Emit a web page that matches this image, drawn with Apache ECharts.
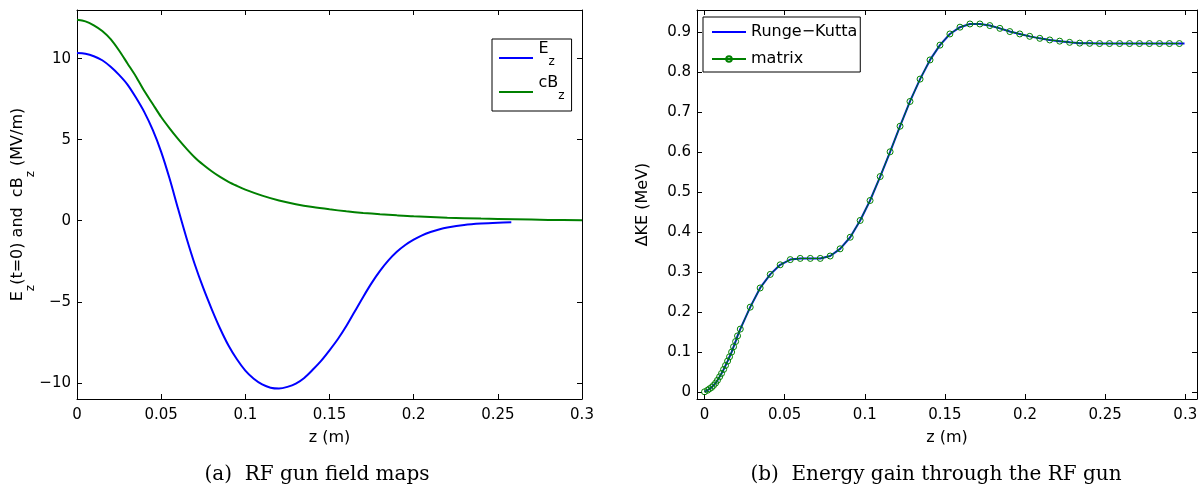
<!DOCTYPE html>
<html>
<head>
<meta charset="utf-8">
<script src="https://cdn.jsdelivr.net/npm/echarts@6/dist/echarts.min.js"></script>
<style>
  html, body { margin: 0; padding: 0; background: #fff; }
  #main { width: 1203px; height: 489px; }
</style>
</head>
<body>
<div id="main"></div>
<script>
var chart = echarts.init(document.getElementById('main'));

// (a) field maps
var ezZ = [0, 0.005, 0.01, 0.015, 0.02, 0.025, 0.03, 0.035, 0.04, 0.045, 0.05, 0.055, 0.06, 0.065, 0.07, 0.075, 0.08, 0.085, 0.09, 0.095,
  0.1, 0.105, 0.11, 0.115, 0.12, 0.125, 0.13, 0.135, 0.14, 0.145, 0.15, 0.155, 0.16, 0.165, 0.17, 0.175, 0.18, 0.185, 0.19, 0.195,
  0.2, 0.205, 0.21, 0.215, 0.22, 0.23, 0.24, 0.25, 0.258];
var ezVal = [10.35, 10.3, 10.15, 9.9, 9.5, 9.0, 8.4, 7.6, 6.7, 5.6, 4.25, 2.6, 0.75, -1.05, -2.7, -4.15, -5.45, -6.65, -7.7, -8.55,
  -9.25, -9.75, -10.1, -10.3, -10.35, -10.25, -10.05, -9.7, -9.2, -8.65, -8.0, -7.3, -6.5, -5.6, -4.7, -3.85, -3.1, -2.45, -1.92, -1.5,
  -1.17, -0.9, -0.7, -0.54, -0.42, -0.26, -0.17, -0.12, -0.1];
var bzZ = [0, 0.005, 0.01, 0.015, 0.02, 0.025, 0.03, 0.035, 0.04, 0.045, 0.05, 0.055, 0.06, 0.065, 0.07, 0.075, 0.08, 0.085, 0.09, 0.095,
  0.1, 0.11, 0.12, 0.13, 0.14, 0.15, 0.16, 0.17, 0.18, 0.19, 0.2, 0.22, 0.24, 0.26, 0.28, 0.3];
var bzVal = [12.4, 12.3, 12.05, 11.7, 11.2, 10.5, 9.7, 8.9, 8.0, 7.2, 6.4, 5.7, 5.05, 4.45, 3.9, 3.45, 3.05, 2.7, 2.4, 2.15,
  1.92, 1.55, 1.25, 1.02, 0.84, 0.7, 0.58, 0.48, 0.4, 0.33, 0.27, 0.19, 0.13, 0.09, 0.05, 0.03];

// (b) energy gain, matrix points
var keZ = [0, 0.0019, 0.0031, 0.0044, 0.0056, 0.0069, 0.0081, 0.0094, 0.0106, 0.0119, 0.0131, 0.0144, 0.0156, 0.0169, 0.0181, 0.0194, 0.0206, 0.0223,
  0.0285, 0.0347, 0.041, 0.0472, 0.0535, 0.0597, 0.066, 0.0722, 0.0784, 0.0846, 0.0909, 0.0971, 0.1033, 0.1096, 0.1158, 0.122, 0.1282,
  0.1345, 0.1407, 0.1469, 0.1531, 0.1594, 0.1656, 0.1718, 0.178, 0.1843, 0.1905, 0.1967, 0.2029, 0.2092, 0.2154, 0.2216, 0.2278,
  0.2341, 0.2403, 0.2465, 0.2527, 0.259, 0.2652, 0.2714, 0.2776, 0.2839, 0.2901, 0.2963];
var keVal = [0, 0.004, 0.0076, 0.011, 0.016, 0.0218, 0.029, 0.0376, 0.046, 0.056, 0.066, 0.077, 0.0877, 0.0995, 0.1128, 0.126, 0.14, 0.157,
  0.212, 0.26, 0.294, 0.318, 0.331, 0.334, 0.334, 0.334, 0.34, 0.358, 0.387, 0.429, 0.479, 0.539, 0.601, 0.665, 0.727,
  0.783, 0.831, 0.868, 0.896, 0.913, 0.921, 0.921, 0.917, 0.91, 0.902, 0.896, 0.89, 0.885, 0.881, 0.878, 0.875,
  0.873, 0.8725, 0.872, 0.872, 0.872, 0.872, 0.872, 0.872, 0.872, 0.872, 0.872];
// Runge-Kutta curve
var rkZ = keZ.concat([0.2995]);
var rkVal = keVal.concat([0.872]);

var xTicks = [0, 0.05, 0.1, 0.15, 0.2, 0.25, 0.3];
var yTicksA = [-10, -5, 0, 5, 10];
var yTicksB = [0, 0.1, 0.2, 0.3, 0.4, 0.5, 0.6, 0.7, 0.8, 0.9];

function pairs(xs, ys) {
  return xs.map(function (x, i) { return [x, ys[i]]; });
}

var FONT = 'DejaVu Sans';
var sub = {
  n: { fontSize: 16, fontFamily: FONT, color: '#000', lineHeight: 16, padding: [0, 0, 18, 0] },
  s: { fontSize: 12, fontFamily: FONT, color: '#000', lineHeight: 12, padding: [7, 0, 0, 0] }
};
// legend icon: a 2px bar in a 34x7 box
var LINE_ICON = 'path://M0,2.5 L34,2.5 L34,4.5 L0,4.5 Z M0,0 L0.01,0 L0.01,0.01 Z M0,7 L0.01,7 L0.01,6.99 Z';

function axisBase(ticks, showLabel, pos) {
  return {
    type: 'value',
    position: pos,
    splitLine: { show: false },
    axisLine: { show: true, onZero: false, lineStyle: { color: '#000', width: 1 } },
    axisTick: { show: true, inside: true, length: 5, customValues: ticks, lineStyle: { color: '#000' } },
    axisLabel: {
      show: showLabel, customValues: ticks, color: '#000', fontFamily: FONT, fontSize: 15,
      formatter: function (v) { return v < 0 ? '\u2212' + (-v) : String(v); }
    }
  };
}

function xAx(grid, min, max, pos, show) {
  var a = axisBase(xTicks, show, pos);
  a.gridIndex = grid; a.min = min; a.max = max;
  a.axisLabel.margin = 9;
  if (show) {
    a.name = 'z (m)';
    a.nameLocation = 'middle';
    a.nameGap = 31;
    a.nameMoveOverlap = false;
    a.nameTextStyle = { color: '#000', fontFamily: FONT, fontSize: 16, lineHeight: 16 };
  }
  return a;
}

function yAx(grid, min, max, ticks, pos, show) {
  var a = axisBase(ticks, show, pos);
  a.gridIndex = grid; a.min = min; a.max = max;
  a.axisLabel.margin = 6;
  return a;
}

var yA = yAx(0, -11, 13, yTicksA, 'left', true);
yA.name = '{n|E}{s|z}{n|(t=0) and  cB}{s|z}{n| (MV/m)}';
yA.nameLocation = 'middle';
yA.nameGap = 42;
yA.nameMoveOverlap = false;
yA.nameTextStyle = { rich: sub };

var yB = yAx(1, -0.018, 0.956, yTicksB, 'left', true);
yB.name = '\u0394KE (MeV)';
yB.nameLocation = 'middle';
yB.nameGap = 46;
yB.nameMoveOverlap = false;
yB.nameTextStyle = { color: '#000', fontFamily: FONT, fontSize: 16, lineHeight: 16 };

var option = {
  animation: false,
  backgroundColor: '#fff',
  grid: [
    { left: 77, top: 10, width: 505, height: 389 },
    { left: 697, top: 10, width: 500, height: 389 }
  ],
  xAxis: [
    xAx(0, 0, 0.3, 'bottom', true),
    xAx(0, 0, 0.3, 'top', false),
    xAx(1, -0.0047, 0.3073, 'bottom', true),
    xAx(1, -0.0047, 0.3073, 'top', false)
  ],
  yAxis: [
    yA,
    yAx(0, -11, 13, yTicksA, 'right', false),
    yB,
    yAx(1, -0.018, 0.956, yTicksB, 'right', false)
  ],
  legend: [
    {
      data: [{ name: 'Ez', icon: LINE_ICON }, { name: 'cBz', icon: LINE_ICON }],
      orient: 'vertical',
      left: 492, top: 39,
      padding: [2, 7, 2, 7],
      itemGap: 0,
      itemWidth: 35, itemHeight: 7,
      backgroundColor: '#fff',
      borderColor: '#000', borderWidth: 1, borderRadius: 0,
      formatter: function (name) { return name === 'Ez' ? '{n|E}{s|z}' : '{n|cB}{s|z}'; },
      textStyle: { rich: sub }
    },
    {
      data: [{ name: 'Runge\u2212Kutta', icon: LINE_ICON }, { name: 'matrix' }],
      orient: 'vertical',
      left: 703, top: 17,
      padding: [5, 3, 3, 8],
      itemGap: 7,
      itemWidth: 34, itemHeight: 7,
      backgroundColor: '#fff',
      borderColor: '#000', borderWidth: 1, borderRadius: 0,
      textStyle: { color: '#000', fontFamily: FONT, fontSize: 16, lineHeight: 20 }
    }
  ],
  series: [
    {
      name: 'Ez', type: 'line', xAxisIndex: 0, yAxisIndex: 0,
      data: pairs(ezZ, ezVal), symbol: 'none', smooth: 0.3,
      lineStyle: { color: '#0000ff', width: 2 }, itemStyle: { color: '#0000ff' }
    },
    {
      name: 'cBz', type: 'line', xAxisIndex: 0, yAxisIndex: 0,
      data: pairs(bzZ, bzVal), symbol: 'none', smooth: 0.3,
      lineStyle: { color: '#008000', width: 2 }, itemStyle: { color: '#008000' }
    },
    {
      name: 'Runge\u2212Kutta', type: 'line', xAxisIndex: 2, yAxisIndex: 2,
      data: pairs(rkZ, rkVal), symbol: 'none', smooth: false,
      lineStyle: { color: '#0000ff', width: 2 }, itemStyle: { color: '#0000ff' }
    },
    {
      name: 'matrix', type: 'line', xAxisIndex: 2, yAxisIndex: 2,
      data: pairs(keZ, keVal), symbol: 'circle', symbolSize: 6, showAllSymbol: true,
      smooth: false,
      lineStyle: { color: '#008000', width: 1 },
      itemStyle: { color: 'rgba(0,0,0,0)', borderColor: '#008000', borderWidth: 1 }
    }
  ],
  graphic: [
    {
      type: 'text', x: 317, y: 475,
      style: { text: '(a)  RF gun field maps', fontFamily: 'DejaVu Serif', fontSize: 20, fill: '#000', align: 'center', verticalAlign: 'middle' }
    },
    {
      type: 'text', x: 936, y: 475,
      style: { text: '(b)  Energy gain through the RF gun', fontFamily: 'DejaVu Serif', fontSize: 20, fill: '#000', align: 'center', verticalAlign: 'middle' }
    }
  ]
};

chart.setOption(option);
window.onresize = chart.resize;
</script>
</body>
</html>
